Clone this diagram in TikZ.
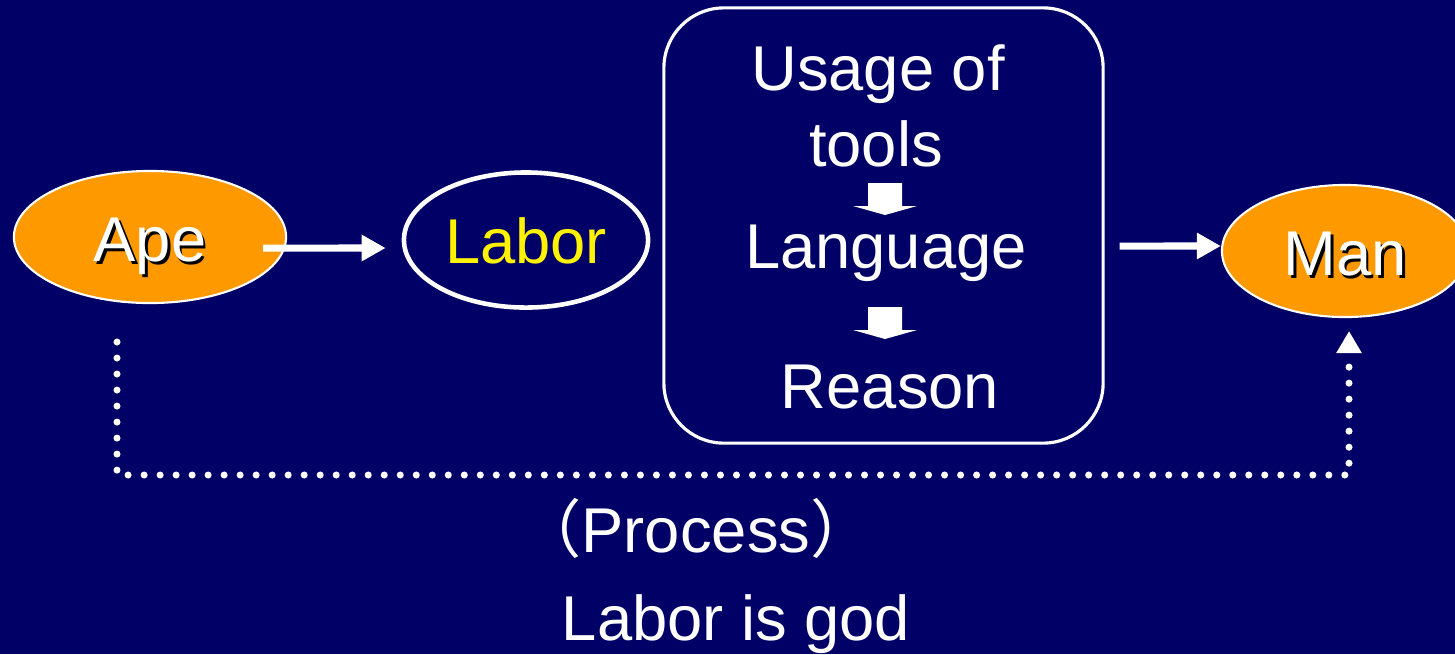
\documentclass[tikz,border=0pt]{standalone}
\usepackage{fontspec}
\setmainfont{Liberation Sans}
\newfontfamily\cjk{Noto Sans CJK SC}
\usetikzlibrary{arrows.meta,shapes.geometric}

\definecolor{slidenavy}{RGB}{0,0,102}
\definecolor{apeorange}{RGB}{255,153,0}

% white text with a small black drop shadow
\newcommand{\shadowed}[1]{\makebox[0pt][l]{\hspace{0.8pt}\raisebox{-0.8pt}{\color{black}#1}}#1}

\begin{document}
\begin{tikzpicture}[
		x=0.01cm, y=-0.01cm,
		every node/.style={font=\fontsize{18}{22}\selectfont, text=white},
		stage/.style={ellipse, fill=apeorange, draw=white, line width=0.6pt, minimum width=2.72cm, minimum height=1.32cm, inner sep=0pt, text height=14.2pt, text depth=0pt},
		work/.style={ellipse, draw=white, line width=1.3pt, minimum width=2.44cm, minimum height=1.35cm, inner sep=0pt, text height=13.6pt, text depth=0pt, text=yellow},
		phase/.style={draw=white, line width=0.9pt, rounded corners=0.6cm, minimum width=4.39cm, minimum height=4.35cm, inner sep=0pt},
		flow/.style={draw=white, line width=2pt, -{Triangle[length=0.24cm, width=0.25cm]}},
		process/.style={draw=white, line width=2pt, line cap=round, dash pattern=on 0pt off 0.16cm, -{Triangle[length=0.22cm, width=0.24cm]}},
		caption/.style={anchor=base}
		]
		
		% Background
		\fill[slidenavy] (0,0) rectangle (1455,654);
		\useasboundingbox (0,0) rectangle (1455,654);
		
		% Stages
		\node[stage] (ape) at (150,237) {\shadowed{Ape}};
		\node[work] (labor) at (526,240) {Labor};
		\node[phase] (box) at (883.5,225.5) {};
		\node[stage, minimum width=2.46cm] (man) at (1345,251) {\shadowed{Man}};
		
		% Inside the box
		\node[caption] (usage) at (878,90) {Usage of};
		\node[caption] (tools) at (876,166) {tools};
		\node[caption] (lang) at (886,268) {Language};
		\node[caption] (reason) at (890,408) {Reason};
		\foreach \y in {183,307}
			\fill[white] (868,\y) -- (902,\y) -- (902,\y+23) -- (917,\y+23) -- (885,\y+32) -- (853,\y+23) -- (868,\y+23) -- cycle;
		
		% Arrows
		\draw[flow] ([xshift=-0.24cm, yshift=-0.11cm]ape.east) -- ([xshift=-0.16cm, yshift=-0.08cm]labor.west);
		\draw[flow] ([xshift=0.15cm, yshift=-0.205cm]box.east) -- ([yshift=0.05cm]man.west);
		
		% Dotted process line
		\coordinate (procstart) at (117,342);
		\coordinate (procend) at (1349,331);
		\draw[process] (procstart) -- ++(0,133) -| (procend);
		
		% Captions
		\node[caption] (proc) at (696,552) {{\cjk （}Process{\cjk ）}};
		\node[caption] (motto) at (736,640) {Labor is god};
		
	\end{tikzpicture}
\end{document}
